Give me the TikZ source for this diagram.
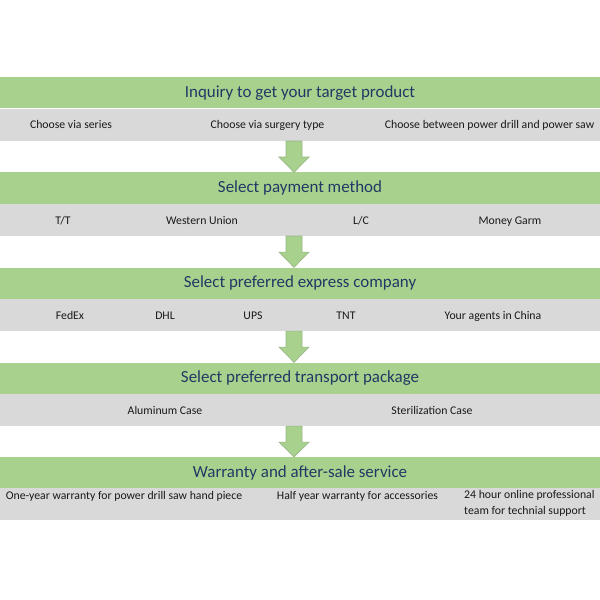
\documentclass[tikz,border=0pt]{standalone}
\usepackage{fontspec}
\setmainfont{Carlito}
\usetikzlibrary{positioning}
\definecolor{bargreen}{HTML}{A9D18E}
\definecolor{bargray}{HTML}{D9D9D9}
\definecolor{barnavy}{HTML}{203864}
\definecolor{arrowline}{HTML}{97B784}
\tikzset{
  stepbar/.style={fill=bargreen, minimum width=600bp, minimum height=31bp, inner sep=0pt,
    text=barnavy, font=\fontsize{17}{20}\selectfont},
  optbar/.style={fill=bargray, minimum width=600bp, minimum height=32bp, inner sep=0pt},
  item/.style={inner sep=0pt, anchor=base, text=black!90, font=\fontsize{11.8}{16}\selectfont},
  blockarrow/.style={fill=bargreen, draw=arrowline, line width=0.7bp}
}
\begin{document}
\begin{tikzpicture}[x=1bp,y=-1bp]
\useasboundingbox (0,0) rectangle (600,600);

% steps and their option bars
\node[stepbar] (step1) at (300,93) {Inquiry to get your target product};
\node[optbar, below=0pt of step1] (opt1) {};
\node[stepbar] (step2) at (300,188) {Select payment method};
\node[optbar, below=0pt of step2] (opt2) {};
\node[stepbar] (step3) at (300,283) {Select preferred express company};
\node[optbar, below=0pt of step3] (opt3) {};
\node[stepbar] (step4) at (300,378) {Select preferred transport package};
\node[optbar, below=0pt of step4] (opt4) {};
\node[stepbar] (step5) at (300,472.5) {Warranty and after-sale service};
\node[optbar, below=0pt of step5] (opt5) {};

% options (placed on their baselines)
\node[item] (series) at (71,129) {Choose via series};
\node[item] (surgery) at (267.5,129) {Choose via surgery type};
\node[item] (drillsaw) at (489.5,129) {Choose between power drill and power saw};

\node[item] (tt) at (63,224) {T/T};
\node[item] (western) at (202,224) {Western Union};
\node[item] (lc) at (361,224) {L/C};
\node[item] (moneygarm) at (510,224) {Money Garm};

\node[item] (fedex) at (70,319) {FedEx};
\node[item] (dhl) at (165,319) {DHL};
\node[item] (ups) at (253,319) {UPS};
\node[item] (tnt) at (346,319) {TNT};
\node[item] (agents) at (493,319) {Your agents in China};

\node[item] (aluminum) at (165,414) {Aluminum Case};
\node[item] (sterile) at (432,414) {Sterilization Case};

\node[item] (handpiece) at (124,499) {One-year warranty for power drill saw hand piece};
\node[item] (accessories) at (357.5,499) {Half year warranty for accessories};
\node[item, align=left, anchor=north west] (support) at (464,490)
  {24 hour online professional\\team for technial support};

% arrows between the steps
\foreach \a/\b in {opt1/step2, opt2/step3, opt3/step4, opt4/step5}
  \filldraw[blockarrow] ([xshift=-14bp]\a.south) -- ([xshift=2bp]\a.south)
    -- ([xshift=2bp,yshift=-16bp]\a.south) -- ([xshift=9bp,yshift=-16bp]\a.south)
    -- ([xshift=-6bp]\b.north)
    -- ([xshift=-21bp,yshift=-16bp]\a.south) -- ([xshift=-14bp,yshift=-16bp]\a.south)
    -- cycle;
\end{tikzpicture}
\end{document}
